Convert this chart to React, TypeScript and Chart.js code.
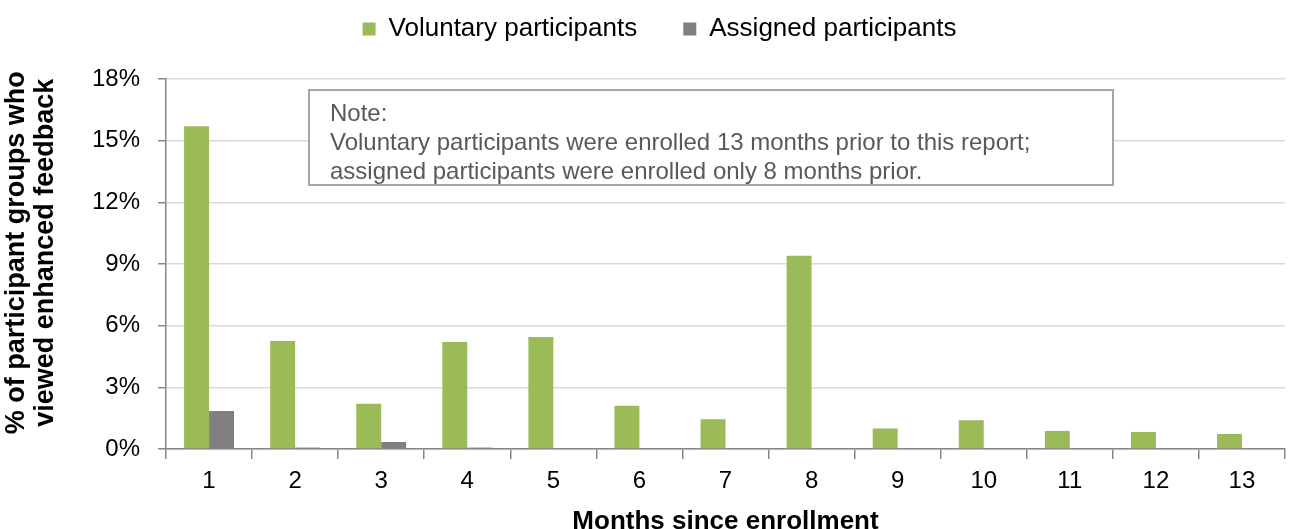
import React, { useEffect, useRef } from "react";
import { Chart, registerables } from "chart.js";

Chart.register(...registerables);

const months = ["1", "2", "3", "4", "5", "6", "7", "8", "9", "10", "11", "12", "13"];
const voluntary = [15.7, 5.25, 2.2, 5.2, 5.45, 2.1, 1.45, 9.4, 1.0, 1.4, 0.88, 0.83, 0.73];
const assigned = [1.85, 0.07, 0.34, 0.07, 0, 0, 0, 0, 0, 0, 0, 0, 0];
const seriesNames = ["Voluntary participants", "Assigned participants"];
const yTitleLines = ["% of participant groups who", "viewed enhanced feedback"];
const xTitle = "Months since enrollment";
const noteLines = [
  "Note:",
  "Voluntary participants were enrolled 13 months prior to this report;",
  "assigned participants were enrolled only 8 months prior.",
];

const FONT = "'Liberation Sans', Arial, sans-serif";

const notePlugin = {
  id: "noteBox",
  afterDatasetsDraw(chart: any) {
    const { ctx, chartArea } = chart;
    const x = chartArea.left + 143;
    const y = chartArea.top + 11;
    const w = 804;
    const h = 95;
    ctx.save();
    ctx.fillStyle = "#ffffff";
    ctx.fillRect(x, y, w, h);
    ctx.strokeStyle = "#a6a6a6";
    ctx.lineWidth = 2;
    ctx.strokeRect(x, y, w, h);
    ctx.fillStyle = "#595959";
    ctx.font = `24px ${FONT}`;
    ctx.textBaseline = "middle";
    noteLines.forEach((t, i) => {
      ctx.fillText(t, x + 21, y + 24 + i * 29);
    });
    ctx.restore();
  },
};

const legendPlugin = {
  id: "legendTweak",
  beforeInit(chart: any) {
    const legend = chart.legend;
    if (!legend) return;
    const origFit = legend.fit;
    legend.fit = function () {
      origFit.call(this);
      this.height = 73;
    };
  },
  afterLayout(chart: any) {
    const legend = chart.legend;
    if (!legend) return;
    legend.left += 17;
    legend.right += 17;
  },
};

export default function App() {
  const ref = useRef<HTMLCanvasElement>(null);
  useEffect(() => {
    document.body.style.margin = "0";
    document.body.style.overflow = "hidden";
    const chart = new Chart(ref.current!, {
      type: "bar",
      data: {
        labels: months,
        datasets: [
          { label: seriesNames[0], data: voluntary, backgroundColor: "#9BBB59", borderWidth: 0 },
          { label: seriesNames[1], data: assigned, backgroundColor: "#808080", borderWidth: 0 },
        ],
      },
      options: {
        responsive: false,
        animation: false,
        layout: { padding: { left: 0, right: 11, top: 6, bottom: 0 } },
        plugins: {
          tooltip: { enabled: false },
          legend: {
            position: "top",
            labels: {
              color: "#000",
              font: { family: FONT, size: 26 },
              boxWidth: 13,
              boxHeight: 13,
              padding: 10,
              generateLabels(chart: any) {
                const items = Chart.defaults.plugins.legend.labels.generateLabels(chart);
                items.forEach((it: any, i: number) => {
                  if (i === 0) it.text = it.text + "     ";
                });
                return items;
              },
            },
          },
        },
        datasets: { bar: { categoryPercentage: 0.58, barPercentage: 1 } } as any,
        scales: {
          x: {
            grid: { drawOnChartArea: false, tickLength: 10, color: "#868686", lineWidth: 1.5, offset: true },
            border: { color: "#868686", width: 1.5 },
            ticks: { color: "#000", font: { family: FONT, size: 24 }, padding: 8 },
            title: {
              display: true,
              text: xTitle,
              color: "#000",
              font: { family: FONT, size: 26, weight: "bold" },
              padding: { top: 4, bottom: 3 },
            },
            afterFit(scale: any) {
              scale.height = 91;
            },
          },
          y: {
            min: 0,
            max: 18,
            grid: { color: "#d9d9d9", lineWidth: 1.5, tickLength: 8, tickColor: "#868686" },
            border: { color: "#868686", width: 1.5 },
            ticks: {
              stepSize: 3,
              color: "#000",
              font: { family: FONT, size: 24 },
              padding: 18,
              callback: (v: any) => v + "%",
            },
            title: {
              display: true,
              text: yTitleLines.map((t) => "   " + t),
              color: "#000",
              font: { family: FONT, size: 27, weight: "bold", lineHeight: 1.07 },
              padding: { top: 2, bottom: 8 },
            },
            afterFit(scale: any) {
              scale.width = 166;
            },
          },
        },
      },
      plugins: [notePlugin, legendPlugin],
    });
    return () => chart.destroy();
  }, []);
  return (
    <div style={{ width: 1296, height: 529, overflow: "hidden" }}>
      <canvas ref={ref} width={1296} height={540} style={{ display: "block" }} />
    </div>
  );
}
